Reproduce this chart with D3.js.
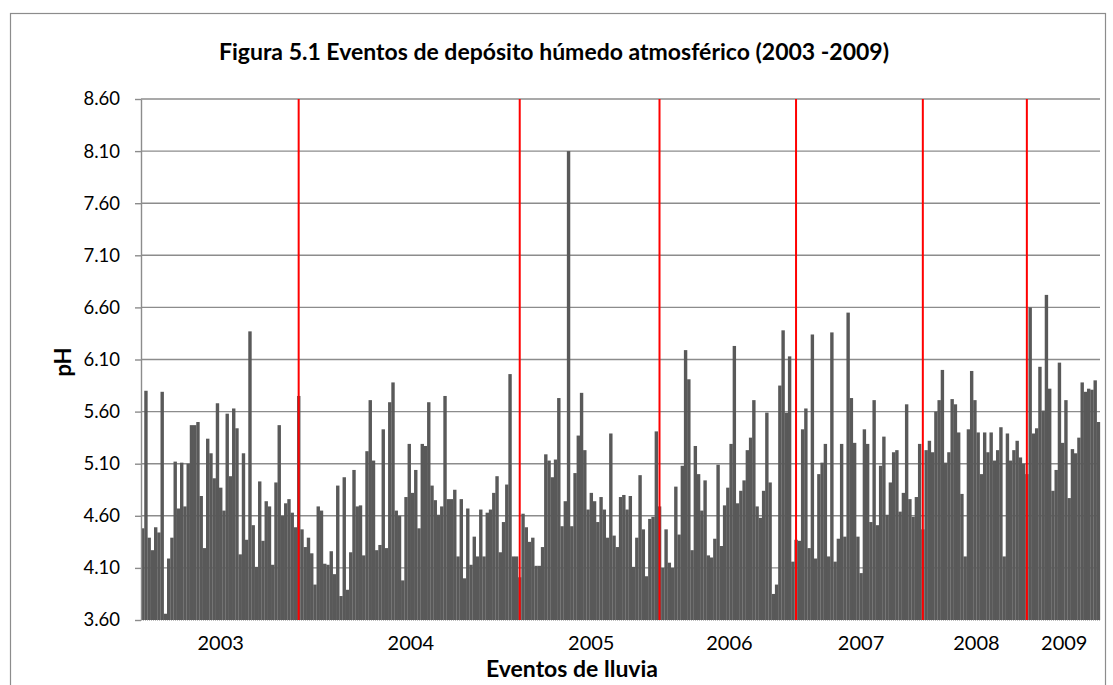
<!DOCTYPE html>
<meta charset="utf-8">
<title>Figura 5.1 Eventos de depósito húmedo atmosférico</title>
<style>
  body { margin: 0; background: #fff; }
  text { font-family: Lato, "Open Sans", sans-serif; fill: #000; }
  .grid line { stroke: #8c8c8c; stroke-width: 1.4px; }
  .yaxis path, .yaxis line { stroke: #8c8c8c; stroke-width: 1.4px; }
</style>
<body>
<svg width="1113" height="685"></svg>
<script src="https://d3js.org/d3.v7.min.js"></script>
<script>
  // pH de cada evento de lluvia, agrupado por año
  var years = ["2003", "2004", "2005", "2006", "2007", "2008", "2009"];

  var ph2003 = [4.48, 5.80, 4.39, 4.27, 4.49, 4.44, 5.79, 3.66, 4.19, 4.39,
    5.12, 4.67, 5.11, 4.69, 5.10, 5.47, 5.47, 5.50, 4.79, 4.29,
    5.34, 5.20, 4.96, 5.68, 4.87, 4.65, 5.58, 4.98, 5.63, 5.44,
    4.23, 5.20, 4.37, 6.37, 4.51, 4.11, 4.93, 4.36, 4.74, 4.69,
    4.13, 4.92, 5.47, 4.60, 4.72, 4.76, 4.63, 4.49, 5.75];

  var ph2004 = [4.47, 4.30, 4.39, 4.24, 3.94, 4.69, 4.65, 4.14, 4.13, 4.26,
    4.04, 4.89, 3.83, 4.97, 3.89, 4.25, 5.04, 4.69, 4.70, 4.22,
    5.22, 5.71, 5.13, 4.27, 4.32, 5.43, 4.29, 5.69, 5.88, 4.65,
    4.60, 3.98, 4.78, 5.29, 4.82, 5.04, 4.48, 5.29, 5.27, 5.69,
    4.89, 4.75, 4.61, 4.69, 5.75, 4.76, 4.76, 4.85, 4.21, 4.76,
    4.00, 4.67, 4.13, 4.40, 4.21, 4.66, 4.21, 4.63, 4.66, 4.82,
    4.98, 4.25, 4.54, 4.90, 5.96, 4.21, 4.21, 4.01];

  var ph2005 = [4.62, 4.49, 4.35, 4.39, 4.12, 4.12, 4.30, 5.19, 5.13, 4.97,
    5.14, 5.73, 4.50, 4.74, 8.10, 4.50, 5.01, 5.37, 5.78, 5.23,
    4.66, 4.82, 4.74, 4.54, 4.78, 4.66, 4.39, 5.39, 4.41, 4.30,
    4.78, 4.80, 4.66, 4.79, 4.11, 4.39, 4.99, 4.47, 4.02, 4.57,
    4.59, 5.41, 4.69];

  var ph2006 = [4.10, 4.47, 4.15, 4.10, 4.88, 4.42, 5.08, 6.19, 5.91, 4.27,
    5.27, 5.00, 4.65, 4.94, 4.22, 4.20, 4.38, 5.09, 4.31, 4.70,
    4.87, 5.29, 6.23, 4.72, 4.84, 4.94, 5.23, 5.35, 5.71, 4.69,
    4.58, 4.84, 5.59, 4.92, 3.85, 3.94, 5.85, 6.38, 5.59, 6.13,
    4.16, 4.37];

  var ph2007 = [4.36, 5.43, 5.63, 4.29, 6.34, 4.19, 5.00, 5.11, 5.29, 4.21,
    6.36, 4.16, 4.38, 5.29, 4.40, 6.55, 5.73, 5.30, 4.40, 4.05,
    5.43, 5.29, 4.54, 5.71, 4.51, 5.08, 5.36, 4.61, 4.92, 5.21,
    5.23, 4.64, 4.82, 5.67, 4.76, 4.59, 4.78, 5.29, 4.47];

  var ph2008 = [5.23, 5.32, 5.21, 5.60, 5.71, 6.00, 5.11, 5.21, 5.72, 5.67,
    5.40, 4.81, 4.21, 5.43, 5.99, 5.71, 5.40, 5.00, 5.40, 5.21,
    5.40, 5.13, 5.23, 5.45, 4.21, 5.39, 5.13, 5.23, 5.32, 5.16,
    5.10, 5.00];

  var ph2009 = [6.60, 5.39, 5.44, 6.03, 5.61, 6.72, 5.82, 4.84, 5.04, 6.07,
    5.30, 5.71, 4.77, 5.24, 5.20, 5.35, 5.88, 5.79, 5.82, 5.81,
    5.90, 5.50];

  var yTicks = [3.6, 4.1, 4.6, 5.1, 5.6, 6.1, 6.6, 7.1, 7.6, 8.1, 8.6];

  var byYear = [ph2003, ph2004, ph2005, ph2006, ph2007, ph2008, ph2009];

  // una lista plana de eventos
  var events = [];
  var groups = [];
  years.forEach(function (yr, i) {
    var first = events.length;
    byYear[i].forEach(function (v) {
      events.push({ year: yr, idx: events.length, ph: v });
    });
    groups.push({ year: yr, first: first, last: events.length - 1 });
  });

  const svg = d3.select('svg');
  const plotLeft = 141, plotRight = 1100, plotTop = 99, plotBottom = 620;

  // marco del grafico
  svg.append("rect")
    .attr("x", 10.5).attr("y", 13.5)
    .attr("width", 1095).attr("height", 700)
    .attr("fill", "none")
    .attr("stroke", "#8c8c8c")
    .attr("stroke-width", 1.2);

  var x = d3.scaleBand()
    .domain(events.map(d => d.idx))
    .range([plotLeft, plotRight])
    .paddingInner(0).paddingOuter(0);

  var y = d3.scaleLinear()
    .domain([3.6, 8.6])
    .range([plotBottom, plotTop]);

  // lineas de cuadricula
  svg.append("g").attr("class", "grid")
    .selectAll("line")
    .data(yTicks.filter(d => d > 3.6))
    .enter().append("line")
    .attr("x1", plotLeft).attr("x2", plotRight)
    .attr("y1", d => y(d)).attr("y2", d => y(d));

  // barras
  svg.append("g")
    .selectAll("rect")
    .data(events)
    .enter().append("rect")
    .attr("x", d => x(d.idx))
    .attr("width", x.bandwidth() + 0.15)
    .attr("y", d => y(d.ph))
    .attr("height", d => plotBottom - y(d.ph))
    .attr("fill", "#595959");

  // eje y
  var yAxis = d3.axisLeft(y)
    .tickValues(yTicks)
    .tickFormat(d3.format(".2f"))
    .tickSize(6)
    .tickSizeOuter(0)
    .tickPadding(15);

  var gy = svg.append("g")
    .attr("class", "yaxis")
    .attr("transform", "translate(" + plotLeft + ",0)")
    .call(yAxis);
  gy.selectAll("text")
    .style("font-family", "Lato, sans-serif")
    .style("font-size", "18.5px")
    .attr("fill", "#000");

  // eje x (punteado)
  svg.append("line")
    .attr("x1", plotLeft).attr("x2", plotRight)
    .attr("y1", plotBottom + 0.5).attr("y2", plotBottom + 0.5)
    .attr("stroke", "#bfbfbf")
    .attr("stroke-dasharray", "1,1");

  // separadores de año en rojo
  svg.append("g")
    .selectAll("line")
    .data(groups.slice(0, groups.length - 1))
    .enter().append("line")
    .attr("x1", d => x(d.last) + x.bandwidth() / 2)
    .attr("x2", d => x(d.last) + x.bandwidth() / 2)
    .attr("y1", plotTop)
    .attr("y2", plotBottom)
    .attr("stroke", "#ff0000")
    .attr("stroke-width", 2);

  // etiquetas de año
  svg.append("g")
    .selectAll("text")
    .data(groups)
    .enter().append("text")
    .attr("x", d => (x(d.first) + x(d.last) + x.bandwidth()) / 2)
    .attr("y", 650)
    .attr("text-anchor", "middle")
    .style("font-size", "20px")
    .text(d => d.year);

  // titulos
  svg.append("text")
    .attr("x", 554).attr("y", 60)
    .attr("text-anchor", "middle")
    .style("font-size", "23px")
    .style("font-weight", "bold")
    .text("Figura 5.1 Eventos de depósito húmedo atmosférico (2003 -2009)");

  svg.append("text")
    .attr("x", 572).attr("y", 677)
    .attr("text-anchor", "middle")
    .style("font-size", "23px")
    .style("font-weight", "bold")
    .text("Eventos de lluvia");

  svg.append("text")
    .attr("transform", "translate(71,362) rotate(-90)")
    .attr("text-anchor", "middle")
    .style("font-size", "22px")
    .style("font-weight", "bold")
    .text("pH");
</script>
</body>
